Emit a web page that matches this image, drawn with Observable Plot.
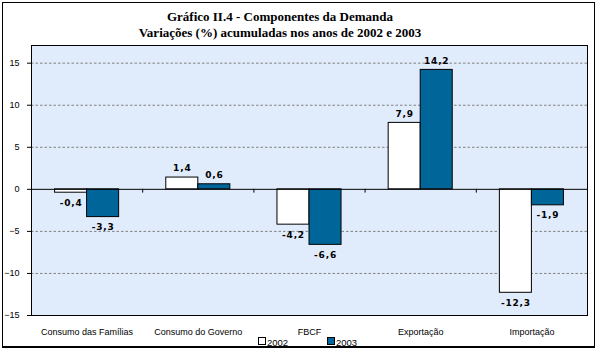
<!DOCTYPE html>
<html>
<head>
<meta charset="utf-8">
<script src="https://cdn.jsdelivr.net/npm/d3@7"></script>
<script src="https://cdn.jsdelivr.net/npm/@observablehq/plot@0.6"></script>
<style>
  html, body { margin: 0; padding: 0; background: #fff; }
  #wrap { position: relative; width: 597px; height: 353px; overflow: hidden; }
  #border { position: absolute; left: 2px; top: 2px; width: 591px; height: 343px; border: 1px solid #000; border-bottom-width: 2px; pointer-events: none; }
  #titles { position: absolute; left: 0; top: 0; width: 560px; height: 40px; text-align: center;
            font-family: "Liberation Serif", serif; font-weight: bold; font-size: 13px; color: #000; }
  #titles .t1 { position: absolute; left: 0; width: 560px; top: 9px; line-height: 16px; }
  #titles .t2 { position: absolute; left: 0; width: 560px; top: 25px; line-height: 16px; }
  #chart { position: absolute; left: 0; top: 40px; }
  #legend { position: absolute; top: 331px; left: 0; font-family: "Liberation Sans", sans-serif; font-size: 9.5px; }
  .lg { position: absolute; white-space: nowrap; display: flex; align-items: center; }
  .sw { display: inline-block; width: 6px; height: 6px; border: 1px solid #000; margin-right: 1px; margin-top: 2px; }
</style>
</head>
<body>
<div id="wrap">
  <div id="titles"><div class="t1" id="t1"></div><div class="t2" id="t2"></div></div>
  <div id="chart"></div>
  <div id="legend"></div>
  <div id="border"></div>
</div>
<script>
const title = "Gráfico II.4 - Componentes da Demanda";
const subtitle = "Variações (%) acumuladas nos anos de 2002 e 2003";
const categories = ["Consumo das Famílias", "Consumo do Governo", "FBCF", "Exportação", "Importação"];
const years = ["2002", "2003"];
const values2002 = [-0.4, 1.4, -4.2, 7.9, -12.3];
const values2003 = [-3.3, 0.6, -6.6, 14.2, -1.9];
const yTicks = [-15, -10, -5, 0, 5, 10, 15];
const gridTicks = [-10, -5, 5, 10, 15];
const colors = {"2002": "#ffffff", "2003": "#006699"};

document.getElementById("t1").textContent = title;
document.getElementById("t2").textContent = subtitle;

const rows = [];
categories.forEach((c, i) => {
  rows.push({cat: c, i, year: years[0], value: values2002[i]});
  rows.push({cat: c, i, year: years[1], value: values2003[i]});
});

const W = 0.288; // bar width in category units
const left = d => d.i + (d.year === years[0] ? -W : 0);
const fmt = v => v.toFixed(1).replace(".", ",");
const boundaries = categories.slice(1).map((_, i) => i + 0.5);

const labelStyle = {fontFamily: "DejaVu Sans", fontWeight: "bold", fontSize: 9, fill: "#000"};

const plot = Plot.plot({
  width: 597,
  height: 313,
  marginTop: 5,
  marginBottom: 38,
  marginLeft: 31,
  marginRight: 10,
  style: {fontFamily: "Liberation Sans, sans-serif", fontSize: "9px", color: "#000", background: "transparent", overflow: "visible"},
  x: {domain: [-0.5, categories.length - 0.5], ticks: categories.map((_, i) => i), tickFormat: i => categories[i], tickSize: 0, tickPadding: 13, label: null},
  y: {domain: [-15, 17.1], ticks: yTicks, tickSize: 4, tickPadding: 8, label: null},
  marks: [
    Plot.frame({fill: "url(#bgdots)"}),
    Plot.ruleY(gridTicks, {stroke: "#808080", strokeDasharray: "2.5,2", strokeWidth: 1}),
    Plot.rect(rows, {x1: left, x2: d => left(d) + W, y1: 0, y2: "value", fill: d => colors[d.year], stroke: "#000", strokeWidth: 1}),
    Plot.ruleY([0], {stroke: "#000", strokeWidth: 1}),
    Plot.ruleX(boundaries, {y1: 0, y2: -0.45, stroke: "#000"}),
    Plot.text(rows.filter(d => d.value >= 0), {x: d => left(d) + W / 2, y: "value", text: d => fmt(d.value), dy: -9, ...labelStyle}),
    Plot.text(rows.filter(d => d.value < 0), {x: d => left(d) + W / 2, y: "value", text: d => fmt(d.value), dy: 10, ...labelStyle}),
    Plot.frame({stroke: "#000", strokeWidth: 1})
  ]
});

// dotted background pattern
const ns = "http://www.w3.org/2000/svg";
const defs = document.createElementNS(ns, "defs");
defs.innerHTML = '<pattern id="bgdots" width="2" height="2" patternUnits="userSpaceOnUse">' +
  '<rect width="2" height="2" fill="#d6e4fa"/><rect width="1" height="1" fill="#ffffff"/></pattern>';
plot.insertBefore(defs, plot.firstChild);
plot.querySelectorAll("g[aria-label='text'] text").forEach(t => { t.style.letterSpacing = "0.8px"; });
document.getElementById("chart").appendChild(plot);

// legend
const legend = document.getElementById("legend");
const lpos = [258, 327];
years.forEach((y, k) => {
  const el = document.createElement("div");
  el.className = "lg";
  el.style.left = lpos[k] + "px";
  el.innerHTML = `<span class="sw" style="background:${colors[y]}"></span><span style="margin-top:6px">${y}</span>`;
  legend.appendChild(el);
});
</script>
</body>
</html>
